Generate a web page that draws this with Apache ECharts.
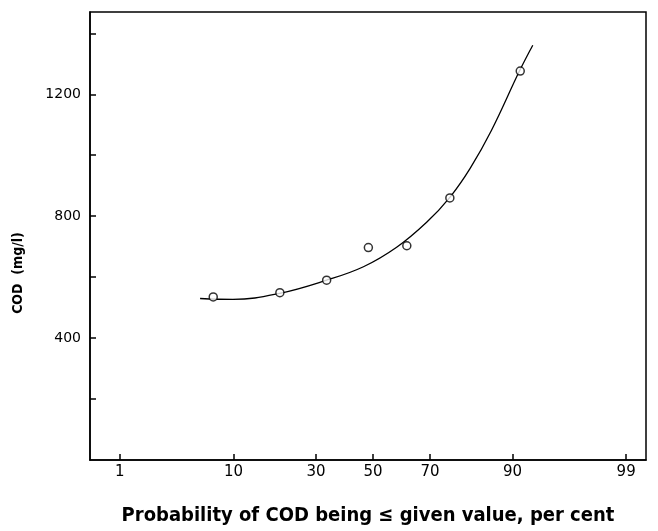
<!DOCTYPE html>
<html>
<head>
<meta charset="utf-8">
<script src="https://cdn.jsdelivr.net/npm/echarts@6/dist/echarts.min.js"></script>
<style>
  html, body { margin: 0; padding: 0; background: #fff; }
  #chart { width: 658px; height: 531px; }
</style>
</head>
<body>
<div id="chart"></div>
<script>
// observed points (probability %, COD mg/l)
const obsProb = [7.1, 19.6, 33.5, 48.3, 62.2, 76.0, 91.2];
const obsCod = [535, 549, 590, 697, 703, 860, 1276];

// fitted curve
const curveProb = [5.6, 9.9, 19.6, 33.5, 46.5, 58.6, 68.9, 76.0, 81.4, 86.2, 91.1, 92.9];
const curveCod = [530, 527, 547, 590, 634, 698, 780, 862, 957, 1082, 1277, 1361];

// axis ticks
const probTicks = [1, 10, 30, 50, 70, 90, 99];
const codTicks = [200, 400, 600, 800, 1000, 1200, 1400];
const codLabels = [400, 800, 1200];

// inverse normal cdf (Acklam), used as the probability-paper scale
function probit(pc) {
  const p = pc / 100;
  const a = [-39.69683028665376, 220.9460984245205, -275.9285104469687, 138.357751867269, -30.66479806614716, 2.506628277459239];
  const b = [-54.47609879822406, 161.5858368580409, -155.6989798598866, 66.80131188771972, -13.28068155288572];
  const c = [-0.007784894002430293, -0.3223964580411365, -2.400758277161838, -2.549732539343734, 4.374664141464968, 2.938163982698783];
  const d = [0.007784695709041462, 0.3224671290700398, 2.445134137142996, 3.754408661907416];
  const plow = 0.02425, phigh = 1 - plow;
  let q, r;
  if (p < plow) {
    q = Math.sqrt(-2 * Math.log(p));
    return (((((c[0] * q + c[1]) * q + c[2]) * q + c[3]) * q + c[4]) * q + c[5]) /
      ((((d[0] * q + d[1]) * q + d[2]) * q + d[3]) * q + 1);
  }
  if (p > phigh) {
    q = Math.sqrt(-2 * Math.log(1 - p));
    return -(((((c[0] * q + c[1]) * q + c[2]) * q + c[3]) * q + c[4]) * q + c[5]) /
      ((((d[0] * q + d[1]) * q + d[2]) * q + d[3]) * q + 1);
  }
  q = p - 0.5;
  r = q * q;
  return (((((a[0] * r + a[1]) * r + a[2]) * r + a[3]) * r + a[4]) * r + a[5]) * q /
    (((((b[0] * r + b[1]) * r + b[2]) * r + b[3]) * r + b[4]) * r + 1);
}

const tickZ = probTicks.map(probit);
const labelFor = {};
probTicks.forEach((p, i) => { labelFor[tickZ[i].toFixed(4)] = String(p); });

const boldNarrow = "'DejaVu Sans Condensed', 'Liberation Sans Narrow', sans-serif";
const X_MIN = -2.601, X_MAX = 2.509, Y_MIN = 0, Y_MAX = 1470;
const box = { left: 90, right: 12, top: 12, bottom: 71, outerBoundsMode: "none" };

const chart = echarts.init(document.getElementById("chart"), null, { renderer: "canvas" });

// second, identical grid only carries the tick marks
const tickOnly = {
  gridIndex: 1,
  axisLine: { show: false, onZero: false },
  axisLabel: { show: false },
  splitLine: { show: false },
};
const tickStyle = { color: "#000", width: 1.5 };

const option = {
  animation: false,
  backgroundColor: "#fff",
  grid: [
    Object.assign({ show: true, borderColor: "#000", borderWidth: 1.5 }, box),
    Object.assign({ show: false }, box),
  ],
  graphic: [
    {
      type: "text",
      x: 18,
      y: 273,
      rotation: Math.PI / 2,
      style: {
        text: "COD  (mg/l)",
        fill: "#000",
        font: "bold 14px " + boldNarrow,
        align: "center",
        verticalAlign: "middle",
      },
    },
  ],
  xAxis: [
    {
      type: "value",
      min: X_MIN,
      max: X_MAX,
      name: "Probability of COD being \u2264 given value, per cent",
      nameLocation: "middle",
      nameGap: 46,
      nameTextStyle: {
        color: "#000",
        fontSize: 20,
        fontWeight: "bold",
        fontFamily: boldNarrow,
      },
      axisLine: { onZero: false, lineStyle: { color: "#000", width: 1.5 } },
      axisTick: { show: false },
      axisLabel: {
        customValues: tickZ,
        interval: 0,
        margin: 5,
        color: "#000",
        fontSize: 15,
        fontFamily: "'DejaVu Sans', sans-serif",
        formatter: (v) => labelFor[v.toFixed(4)] || "",
      },
      splitLine: { show: false },
    },
    Object.assign({
      type: "value",
      min: X_MIN,
      max: X_MAX,
      position: "bottom",
      axisTick: { show: true, inside: true, interval: 0, length: 6, customValues: tickZ, lineStyle: tickStyle },
    }, tickOnly),
  ],
  yAxis: [
    {
      type: "value",
      min: Y_MIN,
      max: Y_MAX,
      axisLine: { onZero: false, lineStyle: { color: "#000", width: 1.5 } },
      axisTick: { show: false },
      axisLabel: {
        customValues: codLabels,
        interval: 0,
        margin: 9,
        color: "#000",
        fontSize: 14,
        fontFamily: "'DejaVu Sans', sans-serif",
        formatter: (v) => String(v),
      },
      splitLine: { show: false },
    },
    Object.assign({
      type: "value",
      min: Y_MIN,
      max: Y_MAX,
      position: "left",
      axisTick: { show: true, inside: true, interval: 0, length: 6, customValues: codTicks, lineStyle: tickStyle },
    }, tickOnly),
  ],
  series: [
    {
      name: "fitted",
      type: "line",
      smooth: 0.4,
      symbol: "none",
      lineStyle: { color: "#000", width: 1.3 },
      data: curveProb.map((p, i) => [probit(p), curveCod[i]]),
      z: 2,
    },
    {
      name: "observed",
      type: "scatter",
      symbol: "circle",
      symbolSize: 8,
      itemStyle: { color: "#fff", borderColor: "#000", borderWidth: 1.5 },
      data: obsProb.map((p, i) => [probit(p), obsCod[i]]),
      z: 3,
    },
  ],
};

chart.setOption(option);
window.addEventListener("resize", chart.resize);
</script>
</body>
</html>
